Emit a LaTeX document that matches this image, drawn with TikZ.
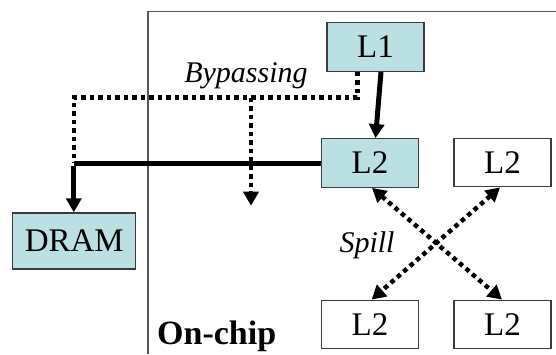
\documentclass[tikz,border=0pt]{standalone}
\usepackage{fontspec}
\setmainfont{Liberation Serif}
\usetikzlibrary{arrows.meta}
\definecolor{boxcyan}{RGB}{187,224,227}
\definecolor{framegray}{RGB}{85,85,85}
\definecolor{edgegray}{RGB}{60,60,60}
\begin{document}
\begin{tikzpicture}[x=1pt,y=-1pt,
  cachebox/.style={draw=edgegray,line width=1.3pt,minimum width=97pt,minimum height=48.5pt,inner sep=0pt,font=\fontsize{33}{36}\selectfont},
  filledbox/.style={cachebox,fill=boxcyan},
  solidarrow/.style={line width=5pt,-{Triangle[width=15pt,length=14pt]}},
  solidline/.style={line width=5pt},
  dotline/.style={line width=4.5pt,dash pattern=on 4.5pt off 4pt},
  dotarrow/.style={dotline,-{Triangle[width=15pt,length=14pt]}},
  spillarrow/.style={dotline,{Triangle[width=15pt,length=14pt]}-{Triangle[width=15pt,length=14pt]}},
  italiclabel/.style={font=\fontsize{30}{34}\selectfont\itshape,inner sep=0pt},
  boldlabel/.style={font=\fontsize{34}{38}\selectfont\bfseries,inner sep=0pt}
]
\useasboundingbox (0,0) rectangle (556,354);
\fill[white] (0,0) rectangle (556,354);
% on-chip frame
\draw[framegray,line width=1.3pt] (556,11.7) -- (148,11.7) -- (148,354);
% boxes
\node[filledbox] (L1) at (375.5,47) {L1};
\node[filledbox] (L2a) at (370,163) {L2};
\node[cachebox] (L2b) at (502.5,162.5) {L2};
\node[filledbox,minimum width=123pt,minimum height=56pt] (DRAM) at (74.3,241) {DRAM};
\node[cachebox] (L2c) at (370,324.5) {L2};
\node[cachebox] (L2d) at (502.5,324.5) {L2};
% coordinates
\coordinate (bj) at (73.8,163);
\coordinate (btop) at (73.8,97.7);
\coordinate (bbr) at (251,97.7);
\coordinate (bend) at (251,205.7);
% L1 -> L2
\draw[solidarrow] ([xshift=5.5pt]L1.south) -- ([xshift=5.5pt]L2a.north);
% bypass dotted path
\draw[dotline] ([xshift=-18.1pt]L1.south) |- (btop) -- (bj);
\draw[dotarrow] (bbr) -- (bend);
% L2 -> DRAM solid
\draw[solidline] (L2a.west) -- (bj);
\draw[solidarrow] ([yshift=-2.5pt]bj) -- (bj |- DRAM.north);
% spill
\draw[spillarrow] ([xshift=2pt]L2a.south) -- ([xshift=-0.5pt]L2d.north);
\draw[spillarrow] ([xshift=-2.5pt]L2b.south) -- ([xshift=1.6pt]L2c.north);
% labels
\node[italiclabel] (byp) at (246,76) {Bypassing};
\node[italiclabel] (spill) at (367,245) {Spill};
\node[boldlabel,anchor=base west] (onchip) at (157,344) {On-chip};
\end{tikzpicture}
\end{document}
